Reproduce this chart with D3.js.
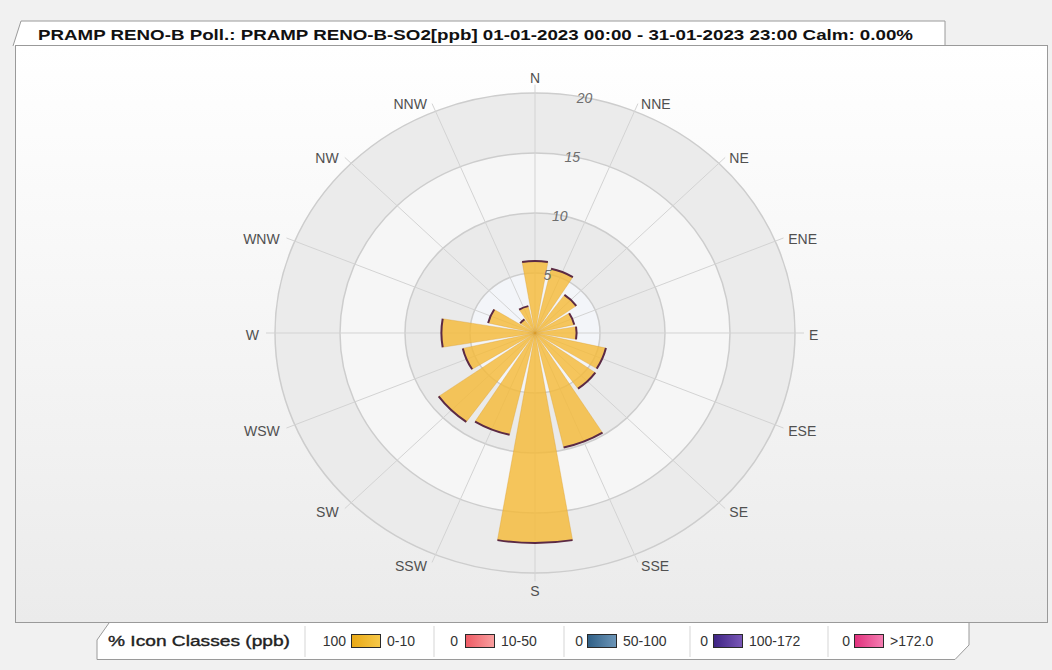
<!DOCTYPE html>
<html>
<head>
<meta charset="utf-8">
<script src="https://cdn.jsdelivr.net/npm/d3@7"></script>
<style>
body { margin: 0; background: #f1f1f1; }
svg { display: block; font-family: "Liberation Sans", Arial, sans-serif; }
</style>
</head>
<body>
<script>
// Wind rose: frequency (%) of SO2 class 0-10 ppb per wind sector
var width = 1052,
    height = 670;

var directions = ["N", "NNE", "NE", "ENE", "E", "ESE", "SE", "SSE",
                  "S", "SSW", "SW", "WSW", "W", "WNW", "NW", "NNW"];
var freq0to10 = [6.0, 5.5, 3.9, 3.1, 3.2, 5.6, 5.7, 9.8,
                 17.5, 8.7, 9.1, 5.7, 7.2, 3.7, 1.4, 2.3];
var ringTicks = [5, 10, 15, 20];
var classLabels = ["0-10", "10-50", "50-100", "100-172", ">172.0"];
var classPercent = [100, 0, 0, 0, 0];
var classColors = [["#f7c94a", "#e9a814"], ["#f9a0a0", "#ee5a64"], ["#6d96b8", "#2f5f86"],
                   ["#7a58b8", "#3d2383"], ["#f57fb3", "#e0307c"]];
var titleText = "PRAMP RENO-B Poll.: PRAMP RENO-B-SO2[ppb] 01-01-2023 00:00 - 31-01-2023 23:00 Calm: 0.00%";

var cx = 535, cy = 333,
    radiusX = 260, radiusY = 240,
    ky = radiusY / radiusX;

var r = d3.scaleLinear().domain([0, 20]).range([0, radiusX]);
var angle = d3.scaleBand().domain(directions).range([0, 2 * Math.PI]);
var halfWidth = 9.5 * Math.PI / 180;

var svg = d3.select("body").append("svg")
    .attr("width", width)
    .attr("height", height);

var defs = svg.append("defs");
var panelGrad = defs.append("linearGradient").attr("id", "panelGrad")
    .attr("x1", 0).attr("y1", 0).attr("x2", 0).attr("y2", 1);
panelGrad.append("stop").attr("offset", "0%").attr("stop-color", "#ffffff");
panelGrad.append("stop").attr("offset", "100%").attr("stop-color", "#ebebeb");

classColors.forEach(function (c, i) {
    var g = defs.append("linearGradient").attr("id", "cls" + i)
        .attr("x1", 0).attr("y1", 0).attr("x2", 1).attr("y2", 0);
    g.append("stop").attr("offset", "0%").attr("stop-color", c[1]);
    g.append("stop").attr("offset", "100%").attr("stop-color", c[0]);
});

// title tab
svg.append("path")
    .attr("d", "M13,46 L21,21 L945,21 L945,46")
    .attr("fill", "#ffffff")
    .attr("stroke", "#9a9a9a");

svg.append("text")
    .attr("x", 38)
    .attr("y", 40)
    .attr("font-size", 14)
    .attr("font-weight", "bold")
    .attr("fill", "#111")
    .attr("textLength", 875)
    .attr("lengthAdjust", "spacingAndGlyphs")
    .text(titleText);

// panel
svg.append("rect")
    .attr("x", 15.5).attr("y", 45.5)
    .attr("width", 1032).attr("height", 577)
    .attr("fill", "url(#panelGrad)")
    .attr("stroke", "#9a9a9a");

// polar area
var polar = svg.append("g")
    .attr("transform", "translate(" + cx + "," + cy + ") scale(1," + ky + ")");

var bandFills = ["#f3f5f9", "#eaeaea", "#f6f6f6", "#ebebeb"];
polar.selectAll("circle.band")
    .data(ringTicks.slice().reverse())
    .enter().append("circle")
    .attr("class", "band")
    .attr("r", function (d) { return r(d); })
    .attr("fill", function (d, i) { return bandFills[ringTicks.length - 1 - i]; })
    .attr("stroke", "#cdcdcd")
    .attr("stroke-width", 1.5)
    .attr("vector-effect", "non-scaling-stroke");

// spokes
polar.selectAll("line.spoke")
    .data(directions)
    .enter().append("line")
    .attr("class", "spoke")
    .attr("x1", 0).attr("y1", 0)
    .attr("x2", function (d) { return (r(20) + 9) * Math.sin(angle(d)); })
    .attr("y2", function (d) { return -(r(20) + 9) * Math.cos(angle(d)); })
    .attr("stroke", "#d3d3d3")
    .attr("stroke-width", 1)
    .attr("vector-effect", "non-scaling-stroke");

// ring labels
var tickAngle = 11 * Math.PI / 180;
svg.append("g").selectAll("text")
    .data(ringTicks)
    .enter().append("text")
    .attr("x", function (d) { return cx + r(d) * Math.sin(tickAngle); })
    .attr("y", function (d) { return cy - r(d) * ky * Math.cos(tickAngle) + 1; })
    .attr("text-anchor", "middle")
    .attr("dominant-baseline", "central")
    .attr("font-size", 14)
    .attr("font-style", "italic")
    .attr("fill", "#6e6e6e")
    .text(function (d) { return d; });

// wedges
var arc = d3.arc()
    .innerRadius(0)
    .outerRadius(function (d) { return r(d.v); })
    .startAngle(function (d) { return angle(d.dir) - halfWidth; })
    .endAngle(function (d) { return angle(d.dir) + halfWidth; });

var rows = directions.map(function (d, i) { return {dir: d, v: freq0to10[i]}; });

polar.append("g").selectAll("path")
    .data(rows)
    .enter().append("path")
    .attr("d", arc)
    .attr("fill", "#f5b935")
    .attr("fill-opacity", 0.8)
    .attr("stroke", "#d69a2a")
    .attr("stroke-opacity", 0.55)
    .attr("stroke-width", 0.6)
    .attr("vector-effect", "non-scaling-stroke");

// dark outer edge of each wedge
polar.append("g").selectAll("path")
    .data(rows)
    .enter().append("path")
    .attr("d", function (d) {
        var p = d3.path(), a = angle(d.dir), rr = r(d.v);
        var a0 = a - halfWidth - Math.PI / 2, a1 = a + halfWidth - Math.PI / 2;
        p.moveTo(rr * Math.cos(a0), rr * Math.sin(a0));
        p.arc(0, 0, rr, a0, a1);
        return p.toString();
    })
    .attr("fill", "none")
    .attr("stroke", "#5b2a45")
    .attr("stroke-width", 2)
    .attr("vector-effect", "non-scaling-stroke");

// direction labels
svg.append("g").selectAll("text")
    .data(directions)
    .enter().append("text")
    .attr("x", function (d) {
        var a = angle(d), s = Math.sin(a);
        return cx + radiusX * s + (Math.abs(s) < 0.01 ? 0 : 12 * s + (s > 0 ? 2 : -4));
    })
    .attr("y", function (d) {
        var a = angle(d), c = Math.cos(a), s = Math.sin(a);
        var dy = Math.abs(s) < 0.01 ? (c > 0 ? -15 : 18) : -10 * c + 2;
        return cy - radiusY * c + dy;
    })
    .attr("text-anchor", function (d) {
        var s = Math.sin(angle(d));
        return Math.abs(s) < 0.01 ? "middle" : (s > 0 ? "start" : "end");
    })
    .attr("dominant-baseline", "central")
    .attr("font-size", 14)
    .attr("fill", "#505050")
    .text(function (d) { return d; });

// legend tab
svg.append("path")
    .attr("d", "M109,623 L97,640 L97,659.5 L955,659.5 L969,645 L969,623")
    .attr("fill", "#ffffff")
    .attr("stroke", "#9a9a9a");

var legend = svg.append("g");
legend.append("text")
    .attr("x", 108).attr("y", 646)
    .attr("font-size", 14)
    .attr("fill", "#222")
    .attr("stroke", "#222")
    .attr("stroke-width", 0.35)
    .attr("textLength", 182)
    .attr("lengthAdjust", "spacingAndGlyphs")
    .text("% Icon  Classes (ppb)");

var sepX = [305, 434, 564, 690, 828];
var valueEnd = [346, 458, 583, 708, 850];
var boxX = [351, 465, 587, 713, 854];

legend.selectAll("line")
    .data(sepX)
    .enter().append("line")
    .attr("x1", function (d) { return d; }).attr("x2", function (d) { return d; })
    .attr("y1", 626).attr("y2", 657)
    .attr("stroke", "#d5d5d5");

var item = legend.selectAll("g.item")
    .data(classLabels)
    .enter().append("g")
    .attr("class", "item");

item.append("text")
    .attr("x", function (d, i) { return valueEnd[i]; })
    .attr("y", 646)
    .attr("text-anchor", "end")
    .attr("font-size", 14)
    .attr("fill", "#333")
    .text(function (d, i) { return classPercent[i]; });

item.append("rect")
    .attr("x", function (d, i) { return boxX[i] + 0.5; })
    .attr("y", 634.5)
    .attr("width", 29).attr("height", 13)
    .attr("fill", function (d, i) { return "url(#cls" + i + ")"; })
    .attr("stroke", "#2a2a2a");

item.append("text")
    .attr("x", function (d, i) { return boxX[i] + 36; })
    .attr("y", 646)
    .attr("font-size", 14)
    .attr("fill", "#333")
    .text(function (d) { return d; });
</script>
</body>
</html>
